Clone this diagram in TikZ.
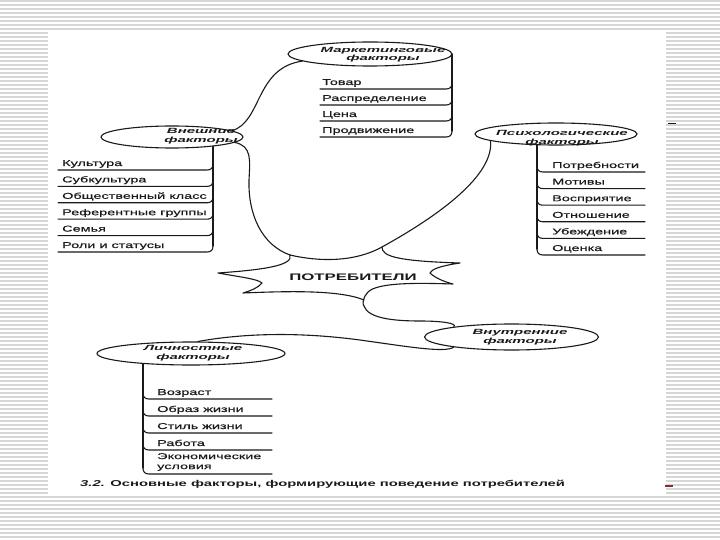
\documentclass[tikz,border=0pt]{standalone}
\usepackage{fontspec}
\setmainfont{Liberation Sans}
\newfontfamily\itemfont[FakeStretch=1.7,FakeBold=0.4]{Liberation Sans}
\newfontfamily\ttlfont[FakeStretch=2.0]{Liberation Sans}
\newfontfamily\starfont[FakeStretch=1.77]{Liberation Sans}
\newfontfamily\capfont[FakeStretch=1.74]{Liberation Sans}
\usetikzlibrary{shapes.geometric}
\pgfdeclarelayer{back}
\pgfdeclarelayer{bg}
\pgfsetlayers{back,bg,main}
\definecolor{ink}{HTML}{1A1A1A}
\definecolor{stripe}{HTML}{D6D6D6}
\definecolor{markred}{HTML}{8A2A35}
\begin{document}
\begin{tikzpicture}[x=1pt,y=-1pt,
  ln/.style={line width=1.1pt, draw=ink, line cap=round, line join=round},
  ell/.style={ellipse, draw=ink, line width=1.1pt, fill=white, inner sep=0pt},
  ttl/.style={font=\ttlfont\bfseries\itshape\fontsize{7.5}{8.5}\selectfont, align=center, inner sep=0pt, text=ink},
  itm/.style={font=\itemfont\fontsize{8.5}{9}\selectfont, anchor=base west, inner sep=0pt, text=ink},
]
\useasboundingbox (0,0) rectangle (720,540);
\begin{pgfonlayer}{back}
  \fill[white] (0,0) rectangle (720,540);
  \foreach \yy in {1,5,...,539} \draw[stripe, line width=1.3pt] (0,\yy) -- (720,\yy);
  \fill[white] (48,30) rectangle (666,494);
  \draw[ink, line width=1pt] (668,124) -- (676,124);
  \draw[markred, line width=1.2pt] (665,486) -- (673,486);
\end{pgfonlayer}

% ellipses
\node[ell, minimum width=164pt, minimum height=24pt] (mk) at (370,54) {};
\node[ell, minimum width=142pt, minimum height=22pt] (ext) at (172,137) {};
\node[ell, minimum width=162pt, minimum height=22pt] (psy) at (556,134) {};
\node[ell, minimum width=188pt, minimum height=23pt] (per) at (191,353.5) {};
\node[ell, minimum width=174pt, minimum height=26pt] (int) at (511.5,337) {};

% titles
\node[ttl] (mkt) at (383,54.5) {Маркетинговые\\факторы};
\node[ttl] (extt) at (201,136) {Внешние\\факторы};
\node[ttl] (psyt) at (562,138) {Психологические\\факторы};
\node[ttl] (pert) at (193,353) {Личностные\\факторы};
\node[ttl] (intt) at (520,337) {Внутренние\\факторы};

% list spines
\begin{pgfonlayer}{bg}
  \draw[ln] (452,54) -- (452,131);
  \draw[ln] (213,137) -- (213,246);
  \draw[ln] (537,134) -- (537,249);
  \draw[ln] (143,353) -- (143,468);
\end{pgfonlayer}

% marketing list
\foreach \yy in {89,105,121,137}
  \draw[ln] (320,\yy) -- (446,\yy) .. controls (450,\yy) and (452,\yy-2) .. (452,\yy-6);
\node[itm] (m1) at (322,85) {Товар};
\node[itm] (m2) at (322,101) {Распределение};
\node[itm] (m3) at (322,117) {Цена};
\node[itm] (m4) at (322,133) {Продвижение};

% external list
\foreach \k in {0,...,5}
  \draw[ln] (58,170+16.4*\k) -- (207,170+16.4*\k) .. controls (211,170+16.4*\k) and (213,168+16.4*\k) .. (213,164+16.4*\k);
\node[itm] (e1) at (62,166) {Культура};
\node[itm] (e2) at (62,182.4) {Субкультура};
\node[itm] (e3) at (62,198.8) {Общественный класс};
\node[itm] (e4) at (62,215.2) {Референтные группы};
\node[itm] (e5) at (62,231.6) {Семья};
\node[itm] (e6) at (62,248) {Роли и статусы};

% psychological list
\foreach \k in {0,...,5}
  \draw[ln] (645,172+16.6*\k) -- (543,172+16.6*\k) .. controls (539,172+16.6*\k) and (537,170+16.6*\k) .. (537,166+16.6*\k);
\node[itm] (p1) at (552,168) {Потребности};
\node[itm] (p2) at (552,184.6) {Мотивы};
\node[itm] (p3) at (552,201.2) {Восприятие};
\node[itm] (p4) at (552,217.8) {Отношение};
\node[itm] (p5) at (552,234.4) {Убеждение};
\node[itm] (p6) at (552,251) {Оценка};

% personal list
\foreach \yy in {399,416,433,450,474}
  \draw[ln] (272,\yy) -- (149,\yy) .. controls (145,\yy) and (143,\yy-2) .. (143,\yy-6);
\node[itm] (l1) at (157,395) {Возраст};
\node[itm] (l2) at (157,412) {Образ жизни};
\node[itm] (l3) at (157,429) {Стиль жизни};
\node[itm] (l4) at (157,446) {Работа};
\node[itm, align=left, anchor=west, font=\itemfont\fontsize{8.5}{10}\selectfont] (l5) at (157,462) {Экономические\\условия};

% star
\coordinate (sTL) at (290,255);
\coordinate (sTR) at (382,247);
\coordinate (sB) at (364,306);
\draw[ln] (sTL) .. controls (294,266) and (260,270) .. (218,273)
  .. controls (240,277) and (258,279) .. (262,283)
  .. controls (258,288) and (250,291) .. (243,293)
  .. controls (290,291) and (340,290) .. (364,300);
\draw[ln] (sTR) .. controls (382,256) and (395,261) .. (460,263)
  .. controls (440,266) and (432,269) .. (430,273)
  .. controls (435,278) and (445,282) .. (453,284)
  .. controls (420,283) and (378,282) .. (368,292)
  .. controls (363,297) and (362,304) .. (sB);
\node[font=\starfont\bfseries\fontsize{9.5}{10}\selectfont, text=ink, inner sep=0pt] (star) at (353,277) {ПОТРЕБИТЕЛИ};

% connectors
\draw[ln] (sTL) .. controls (320,262) and (355,262) .. (sTR);
\draw[ln] (ext.6) .. controls (262,122) and (255,68) .. (mk.186);
\draw[ln] (ext.-5) .. controls (252,146) and (250,160) .. (249,180)
  .. controls (248,215) and (262,245) .. (sTL);
\draw[ln] (psy.186) .. controls (494,175) and (440,215) .. (sTR);
\draw[ln] (sB) .. controls (368,318) and (392,321) .. (420,321)
  .. controls (440,321) and (458,323) .. (int.170);
\draw[ln] (per.60) .. controls (245,333) and (300,332) .. (360,340)
  .. controls (410,347) and (445,353) .. (int.190);

% caption
\node[font=\capfont\bfseries\fontsize{8.5}{9}\selectfont, text=ink, anchor=west, inner sep=0pt] (cap) at (80,484) {\textit{3.2.} Основные факторы, формирующие поведение потребителей};
\end{tikzpicture}
\end{document}
